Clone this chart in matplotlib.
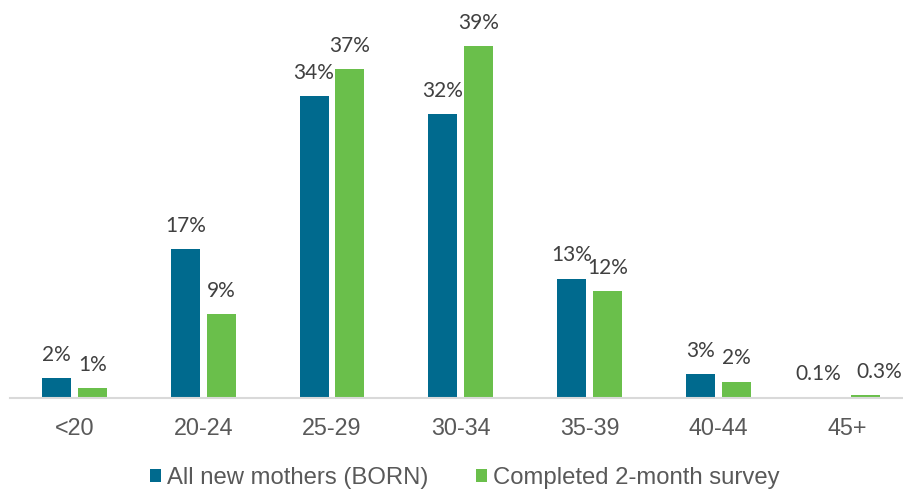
import numpy as np
import matplotlib.pyplot as plt

age_groups = ["<20", "20-24", "25-29", "30-34", "35-39", "40-44", "45+"]
all_mothers = [2.2, 16.6, 33.7, 31.7, 13.3, 2.6, 0.1]
completed = [1.1, 9.3, 36.7, 39.3, 11.9, 1.8, 0.3]
all_labels = ["2%", "17%", "34%", "32%", "13%", "3%", "0.1%"]
completed_labels = ["1%", "9%", "37%", "39%", "12%", "2%", "0.3%"]

blue = "#006A8E"
green = "#6ABF4B"
text_color = "#404040"


def main():
    fig = plt.figure(figsize=(9.04, 4.92), dpi=100)
    ax = fig.add_axes([10 / 904, (492 - 397.7) / 492, 901.6 / 904, 360.8 / 492])

    x = np.arange(len(age_groups))
    width = 0.225
    off = 0.1395
    b1 = ax.bar(x - off, all_mothers, width, color=blue, label="All new mothers (BORN)")
    b2 = ax.bar(x + off, completed, width, color=green, label="Completed 2-month survey")

    # the two tiny 45+ labels are pushed apart so they don't collide
    nudge = {(0, 6): -8, (1, 6): 10}
    for k, (bars, labels) in enumerate(((b1, all_labels), (b2, completed_labels))):
        for i, (rect, lab) in enumerate(zip(bars, labels)):
            ax.annotate(lab, (rect.get_x() + rect.get_width() / 2, rect.get_height()),
                        xytext=(nudge.get((k, i), 0), 9.5), textcoords="offset points",
                        ha="center", va="bottom", fontsize=15,
                        family="Lato", color=text_color, annotation_clip=False)

    ax.set_xlim(-0.5, 6.5)
    ax.set_ylim(0, 40.3)
    ax.set_xticks(x)
    ax.set_xticklabels(age_groups, fontsize=16.8, family="Liberation Sans", color="#595959")
    ax.tick_params(axis="x", length=0, pad=14)
    ax.set_yticks([])
    for s in ["top", "right", "left"]:
        ax.spines[s].set_visible(False)
    ax.spines["bottom"].set_color("#D9D9D9")
    ax.spines["bottom"].set_linewidth(1.5)

    fig.legend(loc="center", bbox_to_anchor=(465 / 904, 1 - 478 / 492), ncol=2,
               frameon=False, handlelength=0.46, handleheight=0.46, handletextpad=0.26,
               columnspacing=2.0, prop={"family": "Liberation Sans", "size": 17.2},
               labelcolor="#595959")

    fig.savefig("out.png", dpi=100)


if __name__ == "__main__":
    main()
